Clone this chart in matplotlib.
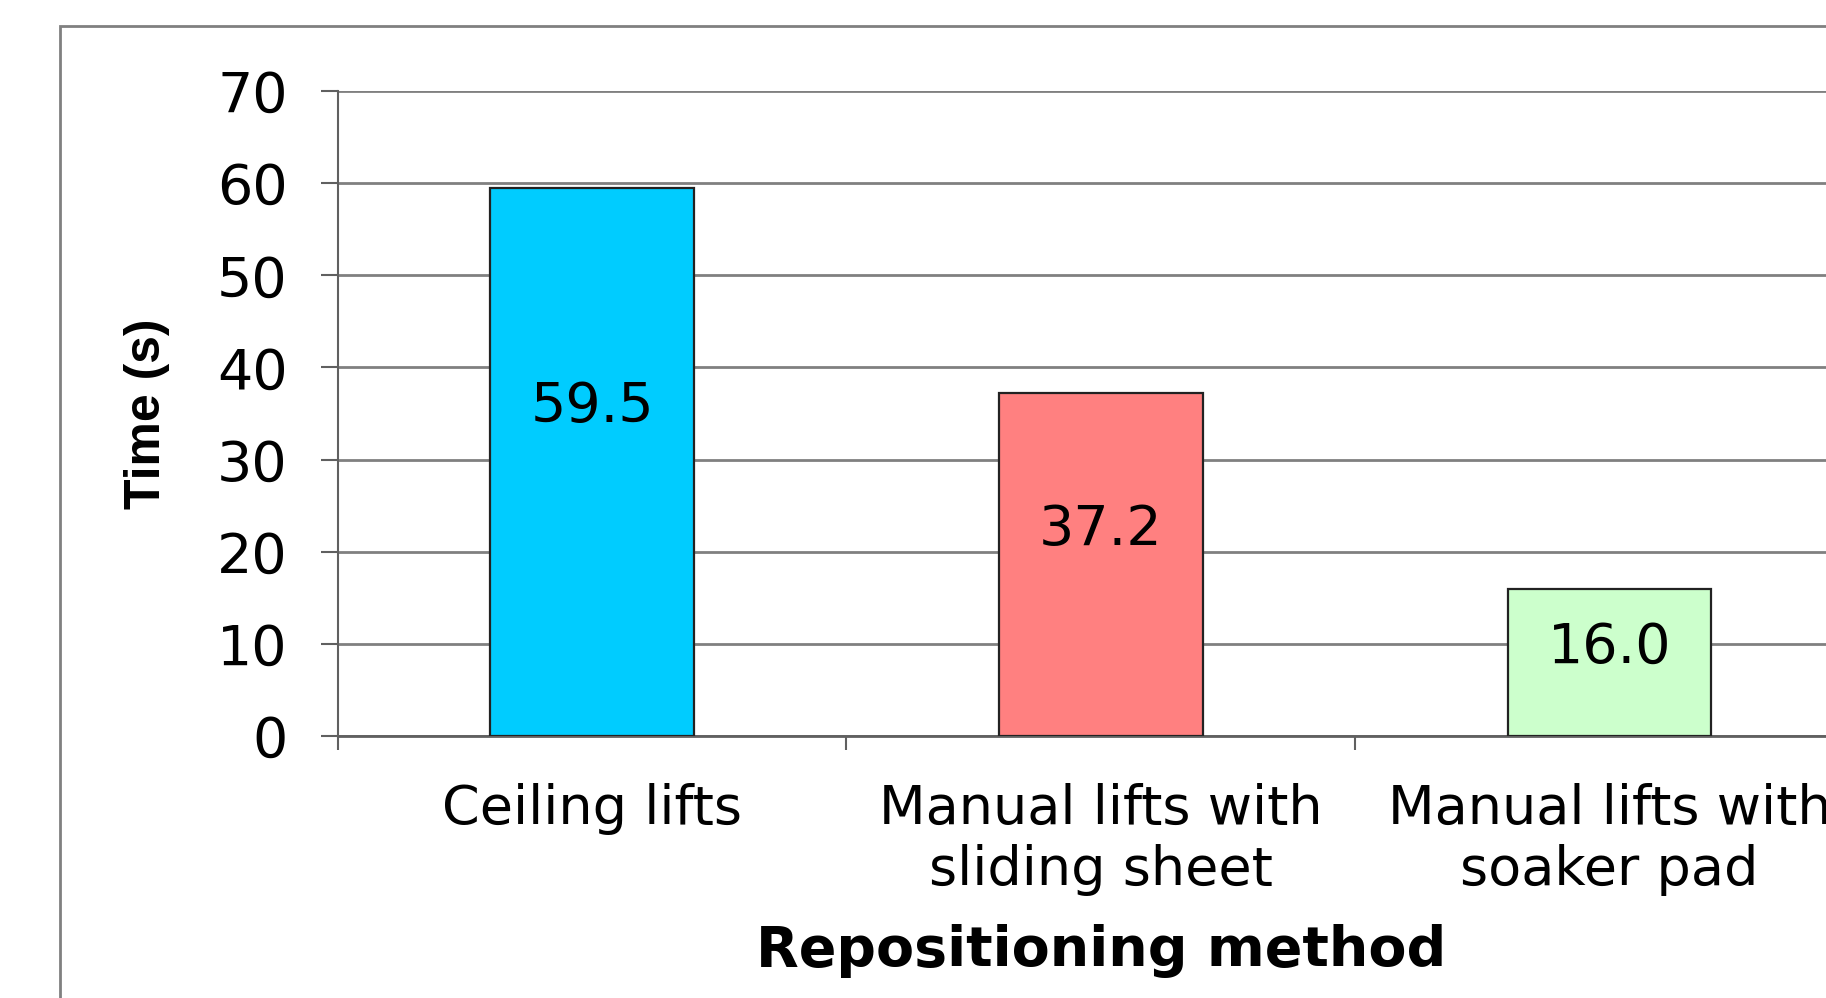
import matplotlib.pyplot as plt
from matplotlib.patches import Rectangle
import numpy as np

methods = ['Ceiling lifts', 'Manual lifts with\nsliding sheet',
           'Manual lifts with\nsoaker pad']
times = [59.5, 37.2, 16.0]
colors = ['#00CCFF', '#FF8080', '#CCFFCC']
y_ticks = [0, 10, 20, 30, 40, 50, 60, 70]

plt.rcParams['font.family'] = ['DejaVu Sans']
FS = 40

fig = plt.figure(figsize=(18.26, 9.98), dpi=100)

# outer chart frame, only the top and left edges fall inside the image
fig.patches.append(Rectangle((0.033, -1.0), 2.0, 1.974, transform=fig.transFigure,
                             fill=False, edgecolor='#808080', linewidth=2.0))

ax = fig.add_axes([0.185, 0.2625, 0.8357, 0.6463])

x = np.arange(len(methods))
ax.bar(x, times, width=0.40, color=colors, edgecolor='#222222', linewidth=1.6,
       zorder=3)

for xi, t in zip(x, times):
    ax.text(xi, t * 0.6, f'{t:.1f}', ha='center', va='center', fontsize=FS,
            color='black', zorder=4)

ax.set_xlim(-0.5, len(methods) - 0.5)
ax.set_ylim(0, 70)
ax.set_yticks(y_ticks)
ax.tick_params(axis='y', labelsize=FS, length=12, width=1.5, pad=24,
               color='#606060')

# category boundaries get the ticks, labels sit at the centres
ax.set_xticks(np.arange(len(methods) + 1) - 0.5)
ax.set_xticklabels([])
ax.tick_params(axis='x', which='major', length=10, width=1.5, color='#606060')
ax.set_xticks(x, minor=True)
ax.set_xticklabels(methods, minor=True, fontsize=39, linespacing=1.22)
ax.tick_params(axis='x', which='minor', length=0, pad=34)

ax.grid(axis='y', color='#808080', linewidth=2.0, zorder=0)
for side in ['top', 'right']:
    ax.spines[side].set_visible(False)
ax.spines['left'].set_color('#606060')
ax.spines['left'].set_linewidth(1.5)
ax.spines['bottom'].set_color('#606060')
ax.spines['bottom'].set_linewidth(2.0)

ax.set_xlabel('Repositioning method', fontsize=FS, fontweight='bold',
              labelpad=20)
ax.set_ylabel('Time (s)', fontsize=36, fontweight='bold', labelpad=34,
              family='Liberation Sans')

fig.savefig('out.png', dpi=100)
